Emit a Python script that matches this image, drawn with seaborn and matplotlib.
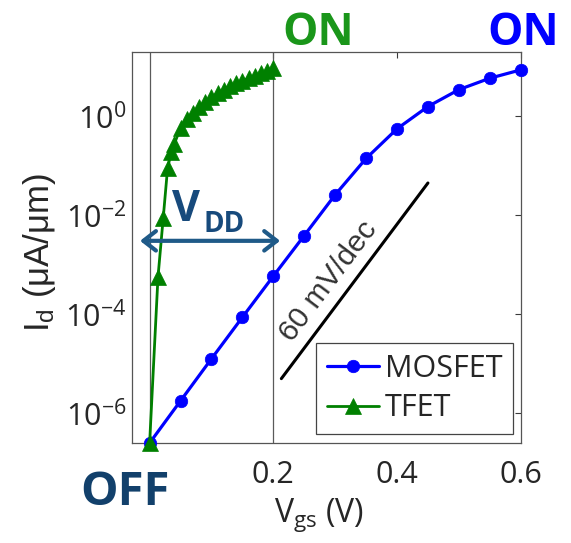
import matplotlib
matplotlib.use("Agg")
import matplotlib.pyplot as plt
from matplotlib import font_manager as fm
from matplotlib.ticker import NullLocator
import pandas as pd
import seaborn as sns

# MOSFET transfer characteristic: gate voltage (V) and drain current (uA/um)
mosfet_vgs = [0.00, 0.05, 0.10, 0.15, 0.20, 0.25, 0.30, 0.35, 0.40, 0.45, 0.50, 0.55, 0.60]
mosfet_id = [2.5e-7, 1.78e-6, 1.26e-5, 8.7e-5, 5.9e-4, 3.9e-3, 2.6e-2,
             0.141, 0.56, 1.58, 3.47, 5.9, 8.7]

# TFET transfer characteristic
tfet_vgs = [0.000, 0.0135, 0.022, 0.029, 0.035, 0.04, 0.05, 0.06, 0.07, 0.08, 0.09,
            0.10, 0.11, 0.12, 0.13, 0.14, 0.15, 0.16, 0.17, 0.18, 0.19, 0.20]
tfet_id = [2.5e-7, 5.6e-4, 8.9e-3, 8.9e-2, 0.19, 0.28, 0.58, 0.87, 1.17, 1.55, 1.91,
           2.45, 2.95, 3.47, 4.07, 4.68, 5.25, 5.89, 6.61, 7.41, 8.32, 9.33]

# 60 mV/dec reference slope
slope_vgs = [0.213, 0.450]
slope_id = [5.0e-6, 4.5e-2]

series_names = ["MOSFET", "TFET"]
x_ticks = [0.2, 0.4, 0.6]
x_tick_labels = ["0.2", "0.4", "0.6"]
y_ticks = [1e-6, 1e-4, 1e-2, 1e0]
y_tick_labels = [r"$\mathregular{10^{-6}}$", r"$\mathregular{10^{-4}}$",
                 r"$\mathregular{10^{-2}}$", r"$\mathregular{10^{0}}$"]
vdd_bounds = [0.0, 0.2]

sns.set_style("white")

installed = {f.name for f in fm.fontManager.ttflist}
narrow = "Liberation Sans Narrow" if "Liberation Sans Narrow" in installed else "Open Sans"
regular = "Liberation Sans" if "Liberation Sans" in installed else "DejaVu Sans"
bold = "Open Sans" if "Open Sans" in installed else "DejaVu Sans"

plt.rcParams["font.family"] = [narrow, "DejaVu Sans"]
plt.rcParams["mathtext.fontset"] = "custom"
plt.rcParams["mathtext.rm"] = narrow
plt.rcParams["mathtext.it"] = narrow + ":italic"
plt.rcParams["mathtext.bf"] = narrow + ":bold"
plt.rcParams["mathtext.default"] = "regular"

W, H = 571, 543
fig = plt.figure(figsize=(W / 100, H / 100), dpi=100)
fig.patch.set_facecolor("white")
ax = fig.add_axes([132 / W, 1 - 443 / H, (521 - 132) / W, (443 - 52) / H])

mos_df = pd.DataFrame({"Vgs": mosfet_vgs, "Id": mosfet_id})
tfet_df = pd.DataFrame({"Vgs": tfet_vgs, "Id": tfet_id})

for x in vdd_bounds:
    ax.axvline(x, color="#5a5a5a", lw=0.9, zorder=1)

sns.lineplot(data=mos_df, x="Vgs", y="Id", ax=ax, color="#0000ff", lw=2.3,
             marker="o", markersize=9, markeredgecolor="#0000ff",
             markeredgewidth=0.5, label=series_names[0], sort=False,
             estimator=None, clip_on=False, zorder=3)
sns.lineplot(data=tfet_df, x="Vgs", y="Id", ax=ax, color="#008000", lw=2.0,
             marker="^", markersize=12, markeredgecolor="#008000",
             markeredgewidth=0.5, label=series_names[1], sort=False,
             estimator=None, clip_on=False, zorder=4)
ax.plot(slope_vgs, slope_id, color="black", lw=2.2, zorder=2)

ax.set_yscale("log")
ax.set_xlim(-0.0285, 0.6005)
ax.set_ylim(2.5e-7, 20)
ax.set_xticks(x_ticks, x_tick_labels)
ax.set_yticks(y_ticks, y_tick_labels)
ax.yaxis.set_minor_locator(NullLocator())
ax.xaxis.set_minor_locator(NullLocator())
ax.tick_params(axis="both", which="major", direction="in", length=4, width=0.8,
               top=True, right=True, labelsize=22, colors="#3a3a3a",
               labelcolor="#262626")
ax.tick_params(axis="x", pad=12)
ax.tick_params(axis="y", pad=4)
ax.set_xlabel("")
ax.set_ylabel("")
for s in ax.spines.values():
    s.set_color("#555555")
    s.set_linewidth(0.9)
    s.set_visible(True)

leg = ax.legend(loc="lower right", bbox_to_anchor=(0.980, 0.023), borderaxespad=0,
                fontsize=22, handlelength=1.7, handletextpad=0.2, borderpad=0.35,
                labelspacing=0.3, fancybox=False, framealpha=1, edgecolor="#444444",
                numpoints=1)
leg.get_frame().set_linewidth(0.9)
for t in leg.get_texts():
    t.set_color("#262626")

# slope annotation
ax.text(0.290, 10 ** -3.34, "60 mV/dec", rotation=53, rotation_mode="anchor",
        ha="center", va="center", fontsize=21.5, family=regular, color="#333333")

# supply-voltage span arrow
ax.annotate("", xy=(0.211, 3.05e-3), xytext=(-0.0155, 3.05e-3),
            arrowprops=dict(arrowstyle="<->,head_length=0.45,head_width=0.35",
                            lw=3, color="#1f5a88", mutation_scale=20,
                            shrinkA=0, shrinkB=0), zorder=5)

def fx(px):
    return px / W

def fy(py):
    return 1 - py / H

fig.text(fx(172), fy(221), "V", fontsize=31, fontweight="bold", family=bold,
         color="#174a7c", ha="left", va="baseline")
fig.text(fx(204), fy(232), "DD", fontsize=20, fontweight="bold", family=bold,
         color="#174a7c", ha="left", va="baseline")

fig.text(fx(318.5), fy(45), "ON", fontsize=32, fontweight="bold", family=bold,
         color="#1a961a", ha="center", va="baseline")
fig.text(fx(523.5), fy(45), "ON", fontsize=32, fontweight="bold", family=bold,
         color="#0000ff", ha="center", va="baseline")
fig.text(fx(125), fy(505), "OFF", fontsize=34, fontweight="bold", family=bold,
         color="#12406b", ha="center", va="baseline")

fig.text(fx(319), fy(522), r"V$_{\mathregular{gs}}$ (V)", fontsize=23,
         color="#262626", ha="center", va="baseline")
fig.text(fx(40), fy(252), r"I$_{\mathregular{d}}$ (μA/μm)", fontsize=25,
         family=regular, color="#262626", rotation=90, ha="center", va="center")

fig.savefig("out.png", dpi=100, facecolor="white")
